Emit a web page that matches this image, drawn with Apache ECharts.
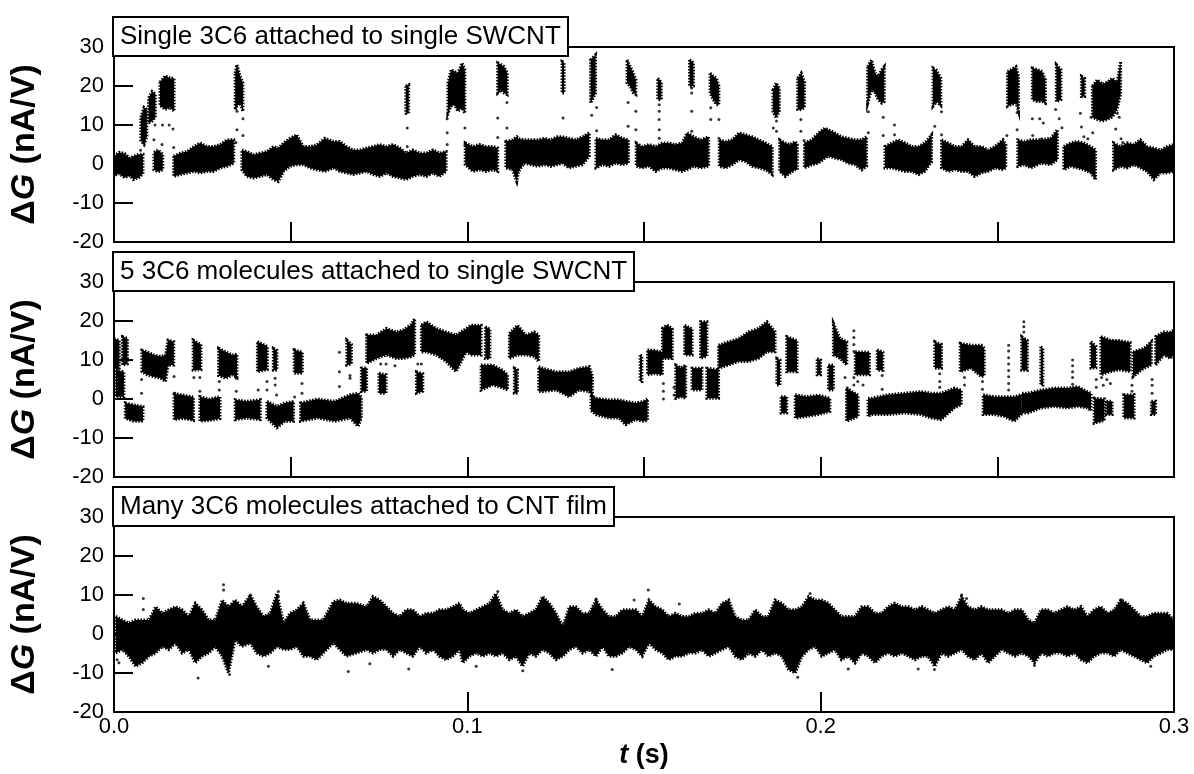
<!DOCTYPE html>
<html>
<head>
<meta charset="utf-8">
<script src="https://cdn.jsdelivr.net/npm/echarts@6/dist/echarts.min.js"></script>
<style>
  html, body { margin: 0; padding: 0; background: #fff; }
  #chart { width: 1194px; height: 774px; }
</style>
</head>
<body>
<div id="chart"></div>
<script>
// time in ms, values in nA/V; each run = [t, low, high] envelope of the dense trace
const panelTitles = [
  "Single 3C6 attached to single SWCNT",
  "5 3C6 molecules attached to single SWCNT",
  "Many 3C6 molecules attached to CNT film"
];

const p1Runs = [
  [[0,-3,2],[1.5,-2.5,3],[3,-3.5,2.7],[4.5,-3,1.5],[5.5,-4,2],[7,-3.5,2.5],[8.2,-2.5,2.5]],
  [[7.6,6,12],[8.5,5,14.5],[9.3,7,14]],
  [[9.8,10.5,17],[10.8,11,18.6],[11.7,12,18]],
  [[11.3,-1.5,3],[12.5,-2,3.6],[13.8,-1.5,2.5]],
  [[13,15,21],[14.5,14,22.6],[16,14.5,22],[17,13.5,22]],
  [[16.9,-3.2,2],[18.8,-2.7,2.8],[20.7,-2.3,3.2],[22.6,-1.9,4.5],[24.4,-2.3,5.4],[26.3,-1.9,4.5],[28.2,-1.9,4.5],[30.1,-1,5],[32,-0.6,6.2],[33.9,0.2,6.2]],
  [[34.3,13.9,23.3],[34.8,14.8,25.5],[35.7,15.6,22.5],[36.5,13.5,20.8]],
  [[36.2,-1.5,3.6],[37.6,-3.2,3.2],[39.5,-3.6,2.4],[41.4,-3.2,2.8],[43.3,-2.7,3.2],[45.1,-4,4.5],[46.5,-4.5,4.1],[48,-1.9,5.4],[49.8,-0.6,6.6],[51.7,-0.2,7.5],[53.6,-0.2,4.5],[55.5,-1,4.5],[57.4,-1.5,4.9],[59.7,-1.9,6.6],[62.1,-1,5.8],[63.9,-1.9,5.8],[65.8,-2.3,4.5],[67.7,-2.7,3.6],[69.6,-2.3,3.6],[71.5,-1.9,4.1],[73.3,-2.7,4.5],[75.2,-3.2,5],[77.1,-2.3,4.5],[79,-3.2,5],[80.9,-3.6,4.1],[82.7,-4,2.8],[84.6,-3.2,3.6],[86.5,-2.7,2.8],[88.4,-3.2,2.8],[90.3,-2.3,3.6],[92.1,-3.2,2.8],[94,-1.9,3.2]],
  [[82.6,13,20],[83.4,13,20.3]],
  [[94.5,13,20.7],[95.4,14.8,24.2],[96.4,15.2,23.7],[97.3,13.5,23.3],[98.5,14.4,25.9],[99.3,13,24.2]],
  [[99.4,-0.2,5.4],[101.6,-1.9,4.5],[103.4,-1.5,5],[105.3,-1.9,4.5],[107.2,-1.5,4.5],[108.6,-1.9,4.1]],
  [[108.6,18.2,25.9],[109.5,19,25.5],[110.4,18.2,25],[111.3,17.8,23.3]],
  [[110.9,-1,5.8],[112.8,-1.5,6.2],[114,-4.5,7],[114.5,-1.9,6.5],[116.1,0.2,6.2],[118,-0.2,6.2],[119.9,-0.6,6.2],[121.8,-0.2,6.6],[123.6,-0.6,6.2],[125.5,-0.2,7],[126.9,0.2,7],[128.8,-1,6.6],[130.7,-0.6,6.2],[132.6,-0.2,7],[134.5,2,8]],
  [[126.8,18.2,26.3],[127.4,18.2,26]],
  [[134.9,15.6,26.7],[136.3,18.2,28]],
  [[136.4,-1,6.6],[138.2,-0.2,6.2],[140.1,-0.6,6.2],[142,0.2,7.5],[143.9,-0.2,6.6],[145.6,0.2,6.2]],
  [[145.2,20.7,26.7],[146.1,19.9,25],[147,18.2,23.3],[147.7,17.8,21.6]],
  [[147.8,-0.6,5.4],[149.5,-1,4.5],[151.4,-0.6,5],[153.3,-1.9,4.5],[155.2,-1,5.4],[157,-1,5.4],[158.9,-1.5,5],[160.8,-1.9,5.4],[162.2,-1.5,8],[164.1,-0.6,7],[166,-1,6.2],[168.3,-0.6,7]],
  [[153.9,16.5,22],[154.9,16.5,21]],
  [[162.9,19.9,26.7],[164,20,26]],
  [[168.7,18.2,23.3],[169.6,16.5,22.5],[170.5,15.2,22],[171.2,15.2,20]],
  [[171.3,-0.6,6.2],[173.1,-1,5.8],[175,-0.2,6.2],[176.9,1.1,8],[178.8,0.6,7.5],[180.6,-0.6,7],[182.5,-1,6.2],[184.4,-1.5,5.4],[186.3,-2.7,4.5]],
  [[186.5,13.5,19],[187.4,11.8,20.8],[188.3,13.5,19.5]],
  [[188.4,-1.9,6.2],[190,-3.2,5.4],[191.4,-2.3,5],[192.8,-1.5,5.8],[193.4,-1.5,5]],
  [[193.5,14,22],[194.5,13.9,23.3],[195.4,14.5,21]],
  [[195.4,-1,5.4],[197.5,-0.2,6.2],[199.4,0.2,8],[201.2,1.5,9.2],[202.2,2,8.8],[204,1.5,8],[205.9,1.1,7],[207.8,0.2,6.6],[209.7,-0.2,6.2],[211.6,-1.5,6.2],[213,-0.6,7]],
  [[213.3,15.6,25],[214.4,19,26.7],[215.4,18.2,23.3],[216.3,16.5,22.5],[217.3,15.6,24.2],[218,16,25]],
  [[218.2,-1,4.5],[220.1,-1,5.4],[222,-1.5,6.2],[223.9,-1.9,5.4],[225.8,-1.9,4.5],[227.7,-2.7,4.5],[229.5,-1.9,5.4],[231.4,0.6,7.5]],
  [[231.8,14.8,24.6],[232.8,16,24],[234,15,22]],
  [[234.2,-1,6.2],[236.1,-1.9,5.4],[238,-1.5,4.5],[239.9,-1.9,4.5],[241.7,-1.9,6.2],[243.6,-3.2,4.5],[245.5,-2.3,4.5],[247.4,-1.9,3.6],[249.3,-1,4.5],[251.6,-1.5,6.2],[252.4,-1,5]],
  [[252.9,14.8,23.7],[253.9,15.2,24.2],[255.3,15.6,25],[256,13.5,22.5]],
  [[255.8,-0.6,6.2],[257.6,-0.2,5.8],[259.5,-1,6.2],[262.3,0.2,6.2],[265.1,-0.2,6.6],[267,1.1,8.8]],
  [[259.9,16.5,24.6],[261.3,16,24.2],[262.7,16,23.7],[263.6,15.6,21.6]],
  [[266.7,16,25.5],[268,16.5,24.2]],
  [[268.8,-1.5,4.5],[270.7,-0.6,5.4],[272.6,-1,5.8],[274.5,-1.5,5.4],[276.4,-2.3,4.5],[277.8,-4,3.6]],
  [[273.8,17.3,22.5],[274.7,17.3,22]],
  [[276.9,12,20],[278.3,11.4,21.6],[279.7,11,20.5],[281.1,11.4,21],[282.5,12,22],[283.9,14,21],[284.9,18,26.3]],
  [[282.9,-1.5,5.4],[284.9,-0.6,4.5],[286.7,-1,5.4],[288.6,-0.2,5],[290.5,-1,6.2],[292.4,-1.9,4.5],[294.3,-4,4.1],[296.2,-2.3,3.6],[298.1,-2.3,4.5],[300,-1.9,5]]
];

const p1Dots = [
  [7.5,3.5],[8.5,5.5],[11.3,6.2],[11.6,10],[13.6,5],[13.7,10],[15.6,10],[16.7,9],[16.9,4.2],
  [34.5,5.5],[34.8,8.8],[34.8,13.5],[36.5,11.6],[36.5,7.3],[83,9.2],[83,4.5],
  [94.3,11.6],[94.3,8],[94.3,5],[99.3,9.2],[99.3,4.9],[108.6,11.8],[108.6,6.8],[111.2,15.8],[111.2,9.2],
  [127.1,11.8],[127.1,6.5],[135.2,12.5],[136.6,14.5],[136.6,8.5],[145.5,15.8],[145.5,9.7],[147.7,13.5],[147.7,8.8],
  [154.3,15.2],[154.3,13.5],[154.3,11.4],[154.3,8.8],[154.3,6.6],[163.5,19.5],[163.5,18.2],[163.5,13.5],[163.5,8.4],
  [168.9,14.4],[168.9,11.4],[171.2,11.4],[171.2,6.6],[186.6,9.2],[187.5,8.4],[187.5,11],[194.4,11.4],[194.4,8.4],[195.3,6],
  [213.5,13.4],[213.5,8],[217.7,12],[217.7,7.3],[220.9,10],[220.9,7.5],[232.3,9.7],[234.2,13.4],[234.2,7.5],
  [252.7,7.3],[255.6,8.8],[255.6,13.2],[259.9,11.6],[262,11.6],[263,10.5],[260,7.3],[262.5,6.5],[264.5,5.5],
  [266.5,14],[267.5,11.6],[268.3,9.3],[266.8,7.5],[273.5,13],[273.8,9.5],[274.5,7],[275.6,6.5],[276.5,12],[277,8],
  [283.5,9],[284,13],[284.5,12],[285,6.5],[285.5,5.5]
];

const p2Runs = [
  [[0,7.9,15.5],[1.5,7.5,15]],
  [[0.5,0.6,7.4],[2.8,0.6,7]],
  [[2.4,8.7,16],[3.8,9,15.5]],
  [[3.2,-5,-1],[5.6,-5.7,-1.5],[8.2,-5.7,-1.9]],
  [[7.9,7,12.5],[9.4,6.2,12.1],[11.3,5.7,11.3],[13.2,5.3,10.9],[14.6,4.5,11.3],[15.3,8.7,15.1],[16.9,8.7,14.7]],
  [[17,-5.3,1.5],[19.5,-5,1],[22.5,-5.5,0.5]],
  [[22.4,7.4,15.1],[24.6,7.5,14]],
  [[24.3,-5.7,0.6],[27,-5.5,0],[30,-5,0.6]],
  [[29.6,6,13],[31.6,5.3,12.1],[33.5,6.2,11.3],[34.8,5.5,11.5]],
  [[34.3,-5.3,-0.2],[37.5,-4.9,-0.6],[41.4,-5.3,-0.2]],
  [[40.6,7,14.7],[43.4,7.5,13.5]],
  [[45.1,7.4,13],[46.1,7.4,12.5]],
  [[43.3,-4.9,-0.6],[46.1,-7.4,-1.9],[48.4,-5.7,-1],[50.8,-5.7,-0.6]],
  [[51,6.6,12.6],[53.3,6.6,12]],
  [[52.8,-5.7,-1],[57.6,-4.9,0],[62.5,-5.7,-0.6],[66.8,-4.9,1.1],[69.1,-7,1.5],[70,-5,0.5]],
  [[65.9,8.7,15.1],[67.2,9,14]],
  [[70,1.9,7.9],[71.5,2,8]],
  [[71.5,9.1,16.4],[74.3,10.4,16.4],[77.1,11.3,18.1],[79.9,10.4,17.2],[81.8,10.4,17.7],[84,10.8,19],[85.1,11.3,20.6]],
  [[75,1.5,6.6],[77,1.5,6.2]],
  [[85.6,1.5,7],[87.4,2,6.5]],
  [[87,12,19],[88.4,12.1,19.8],[91.2,11.3,18.1],[94,9.6,17.2],[96.8,7,16.4],[99.7,12.1,18.1],[101,11.3,18.9],[103.9,11.3,18.9]],
  [[105.1,10.4,18.5],[106.4,10.4,18]],
  [[103.9,2.3,8.7],[107.2,3.6,8.7],[110,2.8,7.4],[111.4,2.3,6.2]],
  [[111.9,10.4,16.8],[114.2,11.3,18.9],[116.6,11.3,16.4],[118.9,10.9,17.2],[120.2,9.6,16.4]],
  [[113.3,1.5,7.9],[114.2,1.5,7.5]],
  [[120.2,1.9,8.3],[121.3,1.9,7.9],[125.1,2.3,7],[128.8,0.6,7],[131.6,2.3,7.9],[134.5,1.9,8.3],[135.4,0.6,6]],
  [[135,-3,1],[136.4,-4,0.2],[140.1,-4.9,-0.2],[142.9,-4.9,-0.2],[144.8,-6.6,-0.6],[147.6,-5.3,-1],[149.9,-5.7,-0.6],[151,-5.5,0]],
  [[148.9,4.5,11.3],[149.4,4.5,11]],
  [[151,6.2,12.6],[153,6.5,12.5],[155.2,6.2,12]],
  [[155.2,10.4,18.1],[156.5,10.4,19],[158,10.4,18]],
  [[159,0.2,8.7],[160.4,0.6,8],[161.8,0.2,8.7]],
  [[161.5,11.3,18.9],[163.6,11.3,18]],
  [[163.6,2.3,7.9],[166.4,2.3,7.9]],
  [[166,10.4,19.8],[167.8,11,19.8]],
  [[167.8,0.2,7.9],[171.1,0.2,7.5]],
  [[171.1,7.9,13.8],[174,8.7,14.7],[176.8,9.6,15.5],[179.6,9.6,17.2],[182.4,10.4,18.1],[184.8,12.1,19.8],[187.1,12.1,17.2]],
  [[187.6,3.6,10.4],[188.5,3.6,10]],
  [[188.8,-3.6,0.6],[190.4,-3.6,0.6]],
  [[190.4,7,16],[193.3,7,15]],
  [[192.8,-4.9,1.1],[196,-4.5,0.6],[199.4,-4,1],[202.6,-3.2,0.2]],
  [[199,6.2,10.4],[200,6.2,10]],
  [[202.2,2.3,8.7],[203.6,2.3,8.7]],
  [[203.6,11.3,19.4],[205.5,10.4,15.5],[207.4,8.7,14.7]],
  [[207.3,-5.7,2.8],[210.6,-4.5,1]],
  [[209.8,6.2,12.1],[213.8,6.2,12]],
  [[216,7.4,12.6],[217.6,7.4,12]],
  [[213.4,-4.5,0.2],[214.4,-4,0.2],[219.1,-4,1.1],[223.8,-3.6,1.5],[228.5,-4,1.9],[231.3,-4.9,1.5],[234.1,-5.3,1.5],[237.9,-2.3,2.8],[239.8,-1.5,2.3]],
  [[232.3,7.9,14.7],[234.2,7.9,14]],
  [[239.5,7,14.3],[242.6,7.9,13.8],[245.5,5.7,13.8],[246.3,6,13]],
  [[246,-4,1.1],[249.2,-4,0.6],[252,-4.5,0.6],[254.8,-5.7,0.6],[256.7,-4,1.1]],
  [[256.9,7.4,16],[258.5,7.4,15]],
  [[262.3,3.6,13.4],[262.9,3.6,13]],
  [[257,-3.6,1.5],[258.6,-3.6,1.5],[262.4,-2.3,2.3],[266.1,-1.9,2.8],[269.9,-2.3,2.8],[272.7,-1.9,3.2],[275.5,-2.3,1.9],[276.5,-3,1.5]],
  [[276.5,7.9,14.7],[277.9,8,13.5]],
  [[277.4,-6.2,0.2],[280.3,-5.5,0]],
  [[279.3,6.2,16],[282,7,15.1],[284.5,7.5,15],[287.6,7,14.5]],
  [[280.9,-4,-0.6],[282.5,-4,-0.6]],
  [[285.8,-4.9,1.1],[288.7,-4.9,1.1]],
  [[288.4,5.7,12.1],[291.5,7.9,13],[293.6,8.7,14.7]],
  [[293.6,-4,-0.6],[294.8,-4,-0.6]],
  [[294.8,8.7,16],[297.1,11.3,17.2],[299,10.4,17.2],[300,11.3,17.7]]
];

const p2Dots = [
  [1,5],[7.8,5],[7.8,1.5],[17,5.8],[17,1.5],[22.6,5.5],[24.3,5.5],[24.3,2],[29.8,4.5],[29.8,2.3],
  [34.6,5.3],[34.6,2],[40.8,2.3],[43.3,4.5],[43.3,2.3],[45.6,5.3],[45.6,3.6],[46,1],[51.1,0.5],[53.2,4],[53.2,1.5],
  [63.8,12],[63.8,7],[63.8,3.2],[66.8,6],[66.8,5.3],[75.5,9],[77,9],[79.5,8.5],[86,9],[87,9],
  [155.5,4],[155.5,2],[155.5,0],[158.5,3],[158.5,1],
  [209.4,17.5],[209.4,15.8],[209.4,14],[209.4,12.2],[209.4,5.5],[209.4,3.6],
  [253.2,13.8],[253.2,12.3],[253.2,10.6],[253.2,9],[253.2,7.3],[253.2,5.7],[253.2,4],[253.2,2.3],
  [271.3,10],[271.3,8.5],[271.3,7],[271.3,5.5],[271.3,3.8],[257.5,19.8],[257.5,18.5],[257.5,17.2],
  [206.9,5.5],[207.5,2.8],[210.5,4.5],[212,3.6],[217.4,6],[217.4,2.5],[233.7,6.5],[233.7,4.5],[233.7,3],
  [240.7,5.5],[240.7,3.6],[245.8,4.5],[245.8,2.5],[262.6,4.5],[278,5],[278,3],[279.5,5.5],[280,3.5],[281,5],[282,4],
  [288.1,3.5],[288.1,2],[293.8,5],[293.8,3.5],[293.8,1.5]
];

const p3Band = [
  [0.5,-4.9,4.5],[2.4,-4,3.6],[4.2,-5.7,2.8],[6.1,-8.3,3.6],[8,-7.4,3.6],[9.9,-5.7,3.6],[11.8,-4.9,7],[13.6,-3.2,5.3],
  [15.5,-4,6.2],[17.4,-2.3,7],[19.3,-4.9,6.2],[21.2,-4,4.5],[23,-7.4,7.9],[24.9,-5.7,6.2],[26.8,-4.9,3.6],[28.7,-3.2,3.6],
  [30.6,-5.7,8.7],[32.4,-10,7],[34.3,-1.5,8.7],[36.2,-3.2,7],[38.6,-2.3,10],[40.4,-4.9,7],[42.3,-5.7,4.5],[44.2,-4.9,5.3],
  [46.1,-3.2,10.4],[48,-4,2.8],[49.8,-4,5.3],[51.7,-3.2,6.2],[53.6,-5.7,7.9],[55.5,-5.7,3.6],[57.4,-6.6,3.6],[59.2,-4.9,3.6],
  [62.1,-2.3,8.3],[63.9,-4,8.7],[65.8,-5.7,7.9],[68.6,-4.9,7.9],[71.5,-4,7],[73.3,-4.9,9.6],[75.2,-4,8.7],[77.1,-4,7],
  [79,-5.7,5.3],[80.9,-4,4.5],[82.7,-4.9,6.2],[84.6,-5.7,6.2],[86.5,-3.2,4.5],[88.4,-4.9,5.3],[90.3,-4,5.3],[92.1,-5.7,6.2],
  [94,-6.6,6.2],[95.9,-5.7,7],[97.8,-4,7.9],[98.7,-7.4,6.2],[100.6,-5.7,5.3],[102.5,-4.9,6.2],[104.4,-5.7,7],[106.3,-4.9,7.9],
  [108.1,-5.7,10.4],[110,-4.9,6.2],[111.9,-6.6,5.3],[113.8,-5.7,6.2],[115.6,-8.3,4.5],[117.5,-4.9,5.3],[119.4,-5.7,6.2],[121.3,-4,9.6],
  [123.2,-4.9,7.9],[125.1,-6.6,5.3],[127,-5.7,1.9],[128.9,-4,7],[130.7,-3.2,7],[132.6,-4.9,5.3],[134.5,-4,5.3],[136.4,-5.7,8.7],
  [138.3,-3.2,6.2],[140.1,-5.7,4.5],[142,-5.7,4.5],[143.9,-4.9,6.2],[145.8,-3.2,6.2],[147.7,-4,6.2],[149.5,-5.7,4.5],[151.4,-2.3,8.7],
  [153.3,-4,7],[155.2,-4.9,6.2],[157,-6.6,4.5],[158.9,-5.7,5.3],[160.8,-5.7,4.5],[162.7,-4.9,4.5],[164.6,-4.9,5.3],[166.4,-4,5.3],
  [168.3,-5.7,6.2],[170.2,-4.9,5.3],[172.1,-4,7.9],[174,-3.2,8.7],[175.8,-5.7,4.5],[177.7,-6.6,3.6],[179.6,-4.9,3.6],[181.5,-5.7,6.2],
  [183.4,-4,4.5],[185.2,-5.7,4.5],[187.1,-4.9,8.7],[189,-5.7,7.9],[190.9,-9.1,6.2],[192.8,-10,6.2],[194.7,-5.7,7],[196.6,-4,9.6],
  [198.5,-3.2,8.7],[200.3,-5.7,8.7],[202.2,-4.9,7.9],[204,-4,6.2],[205.9,-6.6,4.5],[207.8,-5.7,4.5],[209.7,-7.4,4.5],[211.6,-4.9,7],
  [213.5,-5.7,7],[215.4,-7.4,5.3],[217.2,-5.7,5.3],[219.1,-4.9,7],[221,-5.7,7.9],[222.9,-4.9,7],[224.8,-5.7,7],[226.7,-6.6,6.2],
  [228.6,-5.7,7],[230.4,-5.7,6.2],[232.3,-8.3,5.3],[234.2,-4.9,6.2],[236.1,-5.7,7],[238,-4.9,6.2],[239.9,-4,9.6],[241.7,-5.7,7],
  [243.6,-6.6,6.2],[245.5,-4.9,7],[247.4,-7.4,6.2],[249.3,-5.7,6.2],[251.2,-4,6.2],[253.1,-4.9,5.3],[255,-5.7,6.2],[256.9,-4.9,6.2],
  [258.8,-5.7,3.6],[260.5,-7.4,2.8],[262.4,-4.9,6.2],[264.3,-5.7,6.2],[266.1,-4.9,5.3],[268,-4.9,6.2],[269.9,-5.7,7],[271.8,-4.9,6.2],
  [273.7,-6.6,7],[275.5,-7.4,4.5],[277.4,-5.7,6.2],[279.3,-4.9,7],[281.2,-4.9,5.3],[283.1,-5.7,6.2],[284.9,-4,8.7],[286.8,-4.9,7.9],
  [288.7,-5.7,6.2],[290.6,-6.6,4.5],[292.4,-7.4,4.5],[294.3,-5.7,5.3],[296.2,-4.9,5.3],[298.1,-4,5.3],[300,-4,3.6]
];

const p3Dots = [
  [8.3,9.1],[8.3,6.3],[31,12.6],[31,11.3],[38.6,10],[46.5,10.9],[46.5,9.7],[23.8,-11.3],[32.7,-10.4],[83.4,-9],
  [66.3,-9.6],[0.9,-6.6],[1.4,-7.4],[43.7,-8.3],[72.4,-7.6],[108.6,10.9],[151.2,11.3],[136.5,8.9],[147.2,8.7],[160,7.7],
  [141,-9.1],[193.5,-11.1],[197,10.4],[115.7,-9.4],[102.5,-8.3],[239.9,10],[241.3,9.1],[285.3,8.7],[232.2,-9.1],[260.5,-8.1],
  [227.6,-9],[207.8,-9],[293.4,-8.3]
];

const xTickStep = [0.05, 0.05, 0.1];
const gridTops = [47, 282, 517];

const font = "'Liberation Sans', Arial, sans-serif";
let chart = echarts.init(document.getElementById("chart"), null, { renderer: "canvas" });

function bandSeries(runs, idx) {
  return {
    type: "custom",
    xAxisIndex: idx,
    yAxisIndex: idx,
    silent: true,
    clip: true,
    data: runs.map(r => [r[0][0] / 1000, r[0][1]]),
    encode: { x: 0, y: 1 },
    renderItem: function (params, api) {
      const run = runs[params.dataIndex];
      const top = run.map(p => api.coord([p[0] / 1000, p[2]]));
      const bot = run.map(p => api.coord([p[0] / 1000, p[1]])).reverse();
      return {
        type: "polygon",
        shape: { points: top.concat(bot) },
        style: { fill: "#000", stroke: "#000", lineWidth: 3, lineDash: [1.5, 1.5] }
      };
    }
  };
}

function dotSeries(dots, idx) {
  return {
    type: "scatter",
    xAxisIndex: idx,
    yAxisIndex: idx,
    silent: true,
    symbolSize: 3,
    itemStyle: { color: "#000" },
    data: dots.map(d => [d[0] / 1000, d[1]])
  };
}

let grids = [], xAxes = [], yAxes = [], titles = [];
for (let i = 0; i < 3; i++) {
  grids.push({
    left: 112, top: gridTops[i], width: 1062, height: 195,
    show: true, borderColor: "#000", borderWidth: 2, backgroundColor: "transparent"
  });
  xAxes.push({
    type: "value", gridIndex: i, min: 0, max: 0.3, interval: xTickStep[i],
    axisLine: { onZero: false, lineStyle: { color: "#000", width: 2 } },
    axisTick: { inside: true, length: 20, lineStyle: { color: "#000", width: 2 } },
    splitLine: { show: false },
    axisLabel: {
      show: i === 2, color: "#000", fontSize: 22, fontFamily: font, margin: 4,
      formatter: v => v.toFixed(1)
    },
    name: i === 2 ? "{t|t}{s| (s)}" : "",
    nameLocation: "middle",
    nameGap: 30,
    nameTextStyle: {
      rich: {
        t: { fontSize: 27, fontWeight: "bold", fontStyle: "italic", fontFamily: font, color: "#000" },
        s: { fontSize: 27, fontWeight: "bold", fontFamily: font, color: "#000" }
      }
    }
  });
  yAxes.push({
    type: "value", gridIndex: i, min: -20, max: 30, interval: 10,
    axisLine: { onZero: false, lineStyle: { color: "#000", width: 2 } },
    axisTick: { inside: true, length: 19, lineStyle: { color: "#000", width: 2 } },
    splitLine: { show: false },
    axisLabel: { color: "#000", fontSize: 22, fontFamily: font, margin: 10 },
    name: "{d|Δ}{g|G}{d| (nA/V)}",
    nameLocation: "middle",
    nameGap: 72,
    nameTextStyle: {
      rich: {
        d: { fontSize: 34, fontWeight: "bold", fontFamily: font, color: "#000" },
        g: { fontSize: 34, fontWeight: "bold", fontStyle: "italic", fontFamily: font, color: "#000" }
      }
    }
  });
  titles.push({
    text: panelTitles[i],
    left: 113,
    top: gridTops[i] - 30,
    padding: [7, 7, 6, 7],
    borderColor: "#000",
    borderWidth: 2,
    backgroundColor: "#fff",
    textStyle: { fontSize: 26, fontWeight: "normal", fontFamily: font, color: "#000" }
  });
}

let series = [
  bandSeries(p1Runs, 0), dotSeries(p1Dots, 0),
  bandSeries(p2Runs, 1), dotSeries(p2Dots, 1),
  bandSeries([p3Band], 2), dotSeries(p3Dots, 2)
];

chart.setOption({
  animation: false,
  backgroundColor: "#fff",
  title: titles,
  grid: grids,
  xAxis: xAxes,
  yAxis: yAxes,
  series: series
});
</script>
</body>
</html>
